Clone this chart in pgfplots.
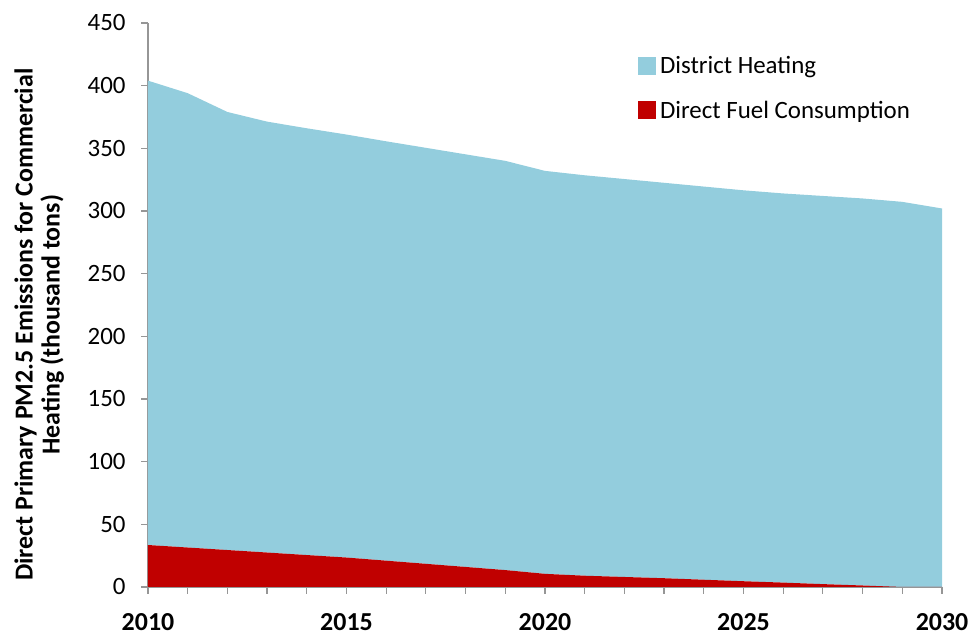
\documentclass[border=0pt]{standalone}
\usepackage{pgfplots}
\pgfplotsset{compat=1.18}
\usepackage{fontspec}
\setmainfont{Carlito}
\definecolor{dh}{HTML}{93CDDD}
\definecolor{df}{HTML}{C00000}
\definecolor{axc}{HTML}{969696}
\begin{document}
\begin{tikzpicture}
\begin{axis}[
  scale only axis, width=794bp, height=564bp,
  xmin=2010, xmax=2030, ymin=0, ymax=450,
  axis x line*=bottom, axis y line*=left,
  axis line style={axc, line width=1.2pt},
  xtick={2010,2015,...,2030}, minor xtick={2010,...,2030},
  ytick={0,50,...,450},
  tick align=outside, major tick length=7bp, minor tick length=7bp,
  tick style={axc, line width=1.2pt},
  /pgf/number format/assume math mode=true,
  /pgf/number format/1000 sep={},
  xticklabel style={font=\bfseries\fontsize{26}{30}\selectfont, inner sep=1bp, yshift=-18bp},
  yticklabel style={font=\fontsize{25}{29}\selectfont, xshift=-12bp},
  ylabel={Direct Primary PM2.5 Emissions for Commercial\\Heating (thousand tons)},
  ylabel style={align=center, font=\bfseries\fontsize{26}{27}\selectfont, at={(axis description cs:-0.137,0.465)}, anchor=center},
  stack plots=y,
  legend style={at={(axis description cs:0.617,0.945)}, anchor=north west, draw=none, fill=none,
    font=\fontsize{25}{29}\selectfont, row sep=22bp, inner sep=0pt,
    /tikz/every odd column/.append style={column sep=2bp}},
  legend cell align=left,
  legend image code/.code={\path[#1] (0bp,-9bp) rectangle (18bp,9bp);},
]
\addlegendimage{fill=dh, draw=none}
\addlegendentry{District Heating}
\addlegendimage{fill=df, draw=none}
\addlegendentry{Direct Fuel Consumption}
\addplot[fill=df, draw=none] coordinates {
(2010,33.5) (2011,31.5) (2012,29.5) (2013,27.5) (2014,25.5) (2015,23.5)
(2016,21) (2017,18.5) (2018,16) (2019,13.5) (2020,10.5) (2021,9) (2022,8)
(2023,7) (2024,5.8) (2025,4.6) (2026,3.5) (2027,2.3) (2028,1.2) (2029,0) (2030,0)
} \closedcycle;
\addplot[fill=dh, draw=none] coordinates {
(2010,370.5) (2011,362.5) (2012,349.5) (2013,343.8) (2014,340.5) (2015,337.5)
(2016,334.6) (2017,331.9) (2018,329.2) (2019,326.5) (2020,321.5) (2021,319.5)
(2022,317.5) (2023,315.5) (2024,313.7) (2025,311.9) (2026,310.5) (2027,309.7)
(2028,308.8) (2029,307.3) (2030,302)
} \closedcycle;
\end{axis}
\path (current axis.south west) ++(-148bp,-44bp) rectangle ++(970bp,631bp);
\end{tikzpicture}
\end{document}
